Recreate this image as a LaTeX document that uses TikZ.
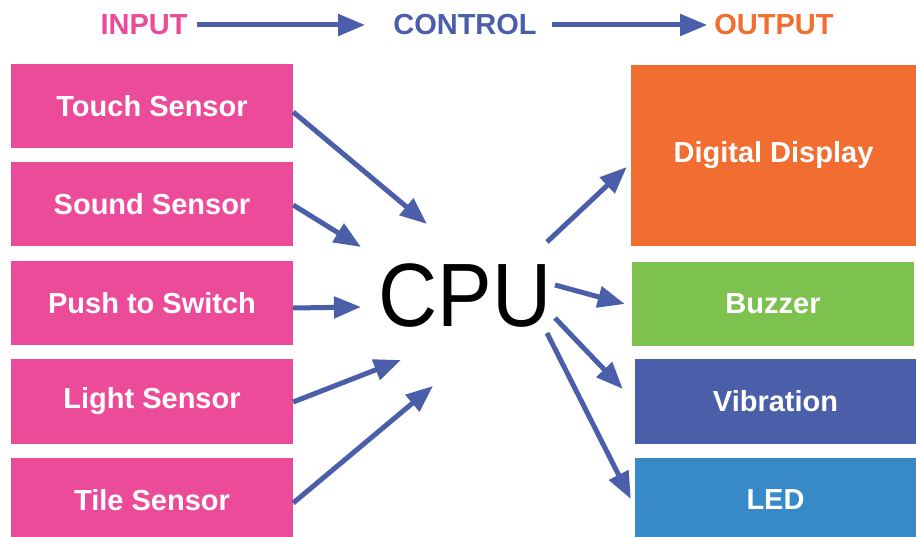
\documentclass[tikz,border=0pt]{standalone}
\usepackage{fontspec}
\setmainfont{Liberation Sans}
\usetikzlibrary{arrows.meta}
\definecolor{inpink}{HTML}{EC4B9A}
\definecolor{outorange}{HTML}{F26E30}
\definecolor{buzgreen}{HTML}{7DC24F}
\definecolor{ctrlblue}{HTML}{4A5EAA}
\definecolor{ledblue}{HTML}{3889C8}
\tikzset{
  box/.style={fill=#1, text=white, font=\bfseries\fontsize{29}{29}\selectfont, minimum height=84pt, inner sep=0pt},
  head/.style={font=\bfseries\fontsize{29}{29}\selectfont, text=#1, inner sep=0pt},
  link/.style={draw=ctrlblue, line width=5pt, -{Triangle[length=27pt,width=21pt]}}
}
\begin{document}
\begin{tikzpicture}[x=1pt,y=-1pt]
\useasboundingbox (0,0) rectangle (916,537);

\node[head=inpink] (input) at (144,25) {INPUT};
\node[head=ctrlblue] (control) at (465,25) {CONTROL};
\node[head=outorange] (output) at (774,25) {OUTPUT};
\draw[link] ([xshift=9pt]input.east) -- ([xshift=-28pt]control.west);
\draw[link] ([xshift=15pt]control.east) -- ([xshift=-7pt]output.west);

\node[box=inpink, minimum width=282pt] (touch) at (152,106.5) {Touch Sensor};
\node[box=inpink, minimum width=282pt] (sound) at (152,204.5) {Sound Sensor};
\node[box=inpink, minimum width=282pt] (push) at (152,303.5) {Push to Switch};
\node[box=inpink, minimum width=282pt] (light) at (152,401.5) {Light Sensor};
\node[box=inpink, minimum width=282pt] (tile) at (152,500) {Tile Sensor};

\node[box=outorange, minimum width=285pt, minimum height=181pt] (display) at (773.5,155.5) {Digital Display};
\node[box=buzgreen, minimum width=282pt] (buzzer) at (773,304) {Buzzer};
\node[box=ctrlblue, minimum width=281pt] (vibration) at (775.5,401.5) {Vibration};
\node[box=ledblue, minimum width=281pt] (led) at (775.5,500) {LED};

\node[inner sep=0pt, font=\fontsize{90}{90}\selectfont] (cpu) at (465,296) {\scalebox{0.91}[1]{CPU}};

% ends round the cpu
\coordinate (i1) at (427,224);
\coordinate (i2) at (361,247);
\coordinate (i3) at (361,307);
\coordinate (i4) at (401,360);
\coordinate (i5) at (433,386);
\coordinate (o1) at (547,242);
\coordinate (o2) at (555,285);
\coordinate (o3) at (555,318);
\coordinate (o4) at (547,333);

\draw[link] (touch.east |- 0,112) -- (i1);
\draw[link] (sound.east |- 0,205) -- (i2);
\draw[link] (push.east |- 0,308) -- (i3);
\draw[link] (light.east |- 0,402) -- (i4);
\draw[link] (tile.east |- 0,503) -- (i5);

\draw[link] (o1) -- ([xshift=-4pt]display.west |- 0,167);
\draw[link] (o2) -- ([xshift=-7pt]buzzer.west |- 0,304);
\draw[link] (o3) -- ([xshift=-12pt]vibration.west |- 0,389);
\draw[link] (o4) -- ([xshift=-4pt]led.west |- 0,499);
\end{tikzpicture}
\end{document}
